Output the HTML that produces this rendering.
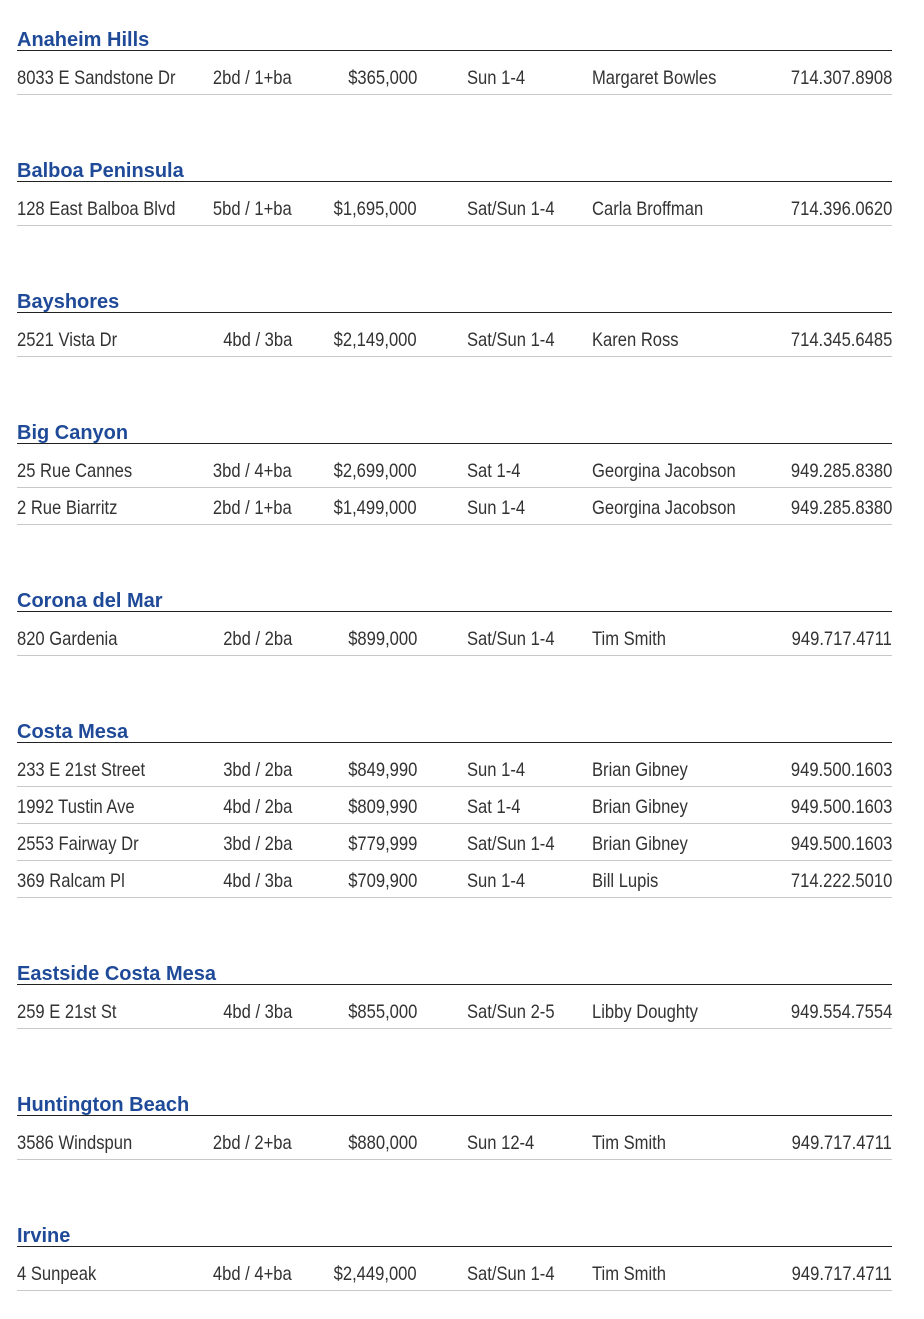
<!DOCTYPE html>
<html><head><meta charset="utf-8"><style>
body{margin:0;width:924px;height:1319px;background:#fff;position:relative;overflow:hidden;font-family:"Liberation Sans",sans-serif}
.h{position:absolute;left:17px;font-weight:bold;font-size:20px;color:#1f4a98;line-height:20px}
.hl{position:absolute;left:17px;width:875px;height:1.3px;background:#222}
.rl{position:absolute;left:17px;width:875px;height:1px;background:#c8c8c8}
.t{position:absolute;font-size:19.5px;color:#333;line-height:20px;white-space:nowrap;transform:scaleX(0.85)}
.l{transform-origin:left center}
.r{transform-origin:right center}
</style></head><body>
<script>
const S=[
["Anaheim Hills",40,[["8033 E Sandstone Dr","2bd / 1+ba","$365,000","Sun 1-4","Margaret Bowles","714.307.8908"]]],
["Balboa Peninsula",171,[["128 East Balboa Blvd","5bd / 1+ba","$1,695,000","Sat/Sun 1-4","Carla Broffman","714.396.0620"]]],
["Bayshores",302,[["2521 Vista Dr","4bd / 3ba","$2,149,000","Sat/Sun 1-4","Karen Ross","714.345.6485"]]],
["Big Canyon",433,[["25 Rue Cannes","3bd / 4+ba","$2,699,000","Sat 1-4","Georgina Jacobson","949.285.8380"],["2 Rue Biarritz","2bd / 1+ba","$1,499,000","Sun 1-4","Georgina Jacobson","949.285.8380"]]],
["Corona del Mar",601,[["820 Gardenia","2bd / 2ba","$899,000","Sat/Sun 1-4","Tim Smith","949.717.4711"]]],
["Costa Mesa",732,[["233 E 21st Street","3bd / 2ba","$849,990","Sun 1-4","Brian Gibney","949.500.1603"],["1992 Tustin Ave","4bd / 2ba","$809,990","Sat 1-4","Brian Gibney","949.500.1603"],["2553 Fairway Dr","3bd / 2ba","$779,999","Sat/Sun 1-4","Brian Gibney","949.500.1603"],["369 Ralcam Pl","4bd / 3ba","$709,900","Sun 1-4","Bill Lupis","714.222.5010"]]],
["Eastside Costa Mesa",974,[["259 E 21st St","4bd / 3ba","$855,000","Sat/Sun 2-5","Libby Doughty","949.554.7554"]]],
["Huntington Beach",1105,[["3586 Windspun","2bd / 2+ba","$880,000","Sun 12-4","Tim Smith","949.717.4711"]]],
["Irvine",1236,[["4 Sunpeak","4bd / 4+ba","$2,449,000","Sat/Sun 1-4","Tim Smith","949.717.4711"]]]];
let h="";
const col=[["l",17],["r",292],["r",417],["l",467],["l",592],["r",892]];
for(const [n,y,rows] of S){
h+=`<div class="h" style="top:${y-10}px">${n}</div><div class="hl" style="top:${y+10}px"></div>`;
rows.forEach((r,i)=>{const c=y+38+37*i;
r.forEach((t,j)=>{const [a,x]=col[j];
h+= a=="l"?`<div class="t l" style="top:${c-10}px;left:${x}px">${t}</div>`:`<div class="t r" style="top:${c-10}px;right:${924-x}px">${t}</div>`;});
h+=`<div class="rl" style="top:${c+16}px"></div>`;});}
document.write(h);
</script>
</body></html>
